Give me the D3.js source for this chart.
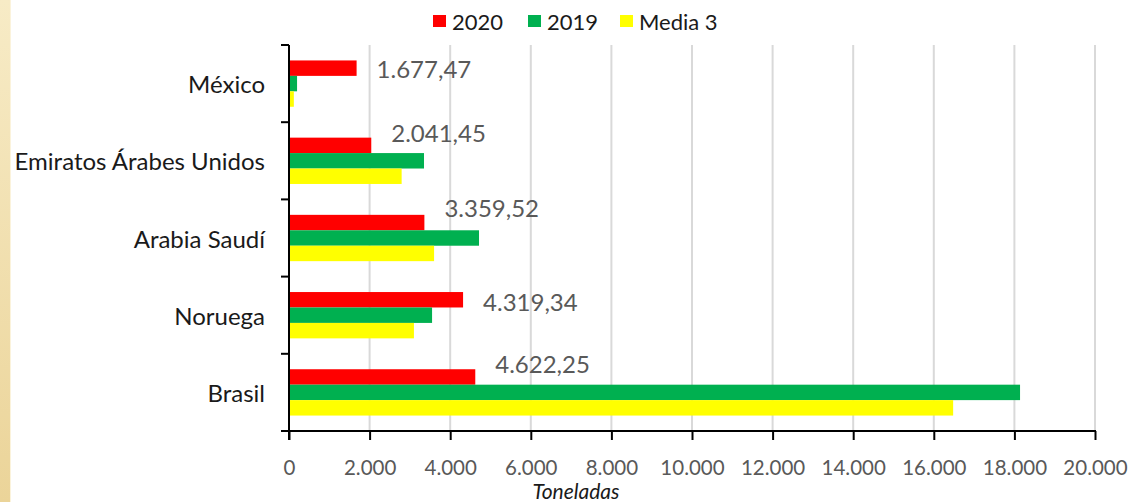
<!DOCTYPE html>
<html>
<head>
<meta charset="utf-8">
<script src="https://cdn.jsdelivr.net/npm/d3@7"></script>
<style>
  body { margin: 0; background: #fff; }
  svg { display: block; }
</style>
</head>
<body>
<div id="chart"></div>
<script>
const countries = ["México", "Emiratos Árabes Unidos", "Arabia Saudí", "Noruega", "Brasil"];
const seriesNames = ["2020", "2019", "Media 3"];
const values2020 = [1677.47, 2041.45, 3359.52, 4319.34, 4622.25];
const values2019 = [200, 3350, 4715, 3550, 18140];
const valuesMedia = [120, 2795, 3600, 3100, 16480];
const xTicks = [0, 2000, 4000, 6000, 8000, 10000, 12000, 14000, 16000, 18000, 20000];
// manual vertical shift of each label (Excel labels were dragged by hand)
const labelNudge = [0, -13, -15, 2, -13];

const width = 1132, height = 502;
const margin = { top: 45, right: 37, bottom: 71, left: 289 };
const colors = ["#ff0000", "#00b050", "#ffff00"];
const font = "Lato, 'Open Sans', sans-serif";

const rows = countries.map((c, i) => ({
  name: c,
  vals: [values2020[i], values2019[i], valuesMedia[i]]
}));

const svg = d3.select("#chart").append("svg")
  .attr("width", width)
  .attr("height", height);

// beige strip on the left edge
const grad = svg.append("defs").append("linearGradient")
  .attr("id", "strip").attr("x1", 0).attr("y1", 0).attr("x2", 0).attr("y2", 1);
grad.append("stop").attr("offset", 0).attr("stop-color", "#f7ebc6");
grad.append("stop").attr("offset", 1).attr("stop-color", "#ebd499");
svg.append("rect").attr("x", 0).attr("y", 0).attr("width", 10).attr("height", height)
  .attr("fill", "url(#strip)");
svg.append("rect").attr("x", 10).attr("y", 0).attr("width", 1).attr("height", height)
  .attr("fill", "#fbf3dc");

const x = d3.scaleLinear()
  .domain([0, 20000])
  .range([margin.left, width - margin.right]);

const y = d3.scaleBand()
  .domain(countries)
  .range([margin.top, height - margin.bottom])
  .paddingInner(0.4)
  .paddingOuter(0.2);

const ySub = d3.scaleBand()
  .domain(seriesNames)
  .range([0, y.bandwidth()]);

const fmt = d3.formatLocale({ decimal: ",", thousands: ".", grouping: [3], currency: ["", ""] });
const fmtTick = fmt.format(",.0f");
const fmtLabel = fmt.format(",.2f");

// grid
svg.append("g")
  .selectAll("line")
  .data(xTicks.slice(1))
  .join("line")
  .attr("x1", d => x(d)).attr("x2", d => x(d))
  .attr("y1", margin.top).attr("y2", height - margin.bottom)
  .attr("stroke", "#d9d9d9")
  .attr("stroke-width", 2);

// bars
const group = svg.append("g")
  .selectAll("g")
  .data(rows)
  .join("g")
  .attr("transform", d => `translate(0,${y(d.name)})`);

group.selectAll("rect")
  .data(d => d.vals.map((v, k) => ({ v, k })))
  .join("rect")
  .attr("x", x(0))
  .attr("y", d => ySub(seriesNames[d.k]))
  .attr("width", d => x(d.v) - x(0))
  .attr("height", ySub.bandwidth())
  .attr("fill", d => colors[d.k]);

// data labels for 2020
svg.append("g")
  .selectAll("text")
  .data(rows)
  .join("text")
  .attr("x", d => x(d.vals[0]) + 20)
  .attr("y", (d, i) => y(d.name) + ySub("2020") + ySub.bandwidth() / 2 + labelNudge[i])
  .attr("dominant-baseline", "central")
  .attr("font-family", font)
  .attr("font-size", 24)
  .attr("fill", "#595959")
  .text(d => fmtLabel(d.vals[0]));

// x axis
const yBottom = height - margin.bottom;
const xAxis = svg.append("g")
  .attr("transform", `translate(0,${yBottom})`)
  .call(d3.axisBottom(x).tickValues(xTicks).tickFormat(fmtTick).tickSize(9).tickSizeOuter(0));
xAxis.select(".domain").remove();
xAxis.append("line")
  .attr("x1", x(0) - 8).attr("x2", x(20000) + 1)
  .attr("stroke", "#000").attr("stroke-width", 2);
xAxis.selectAll(".tick line").attr("stroke", "#000").attr("stroke-width", 2);
xAxis.selectAll(".tick text")
  .attr("dy", "0")
  .attr("y", 44)
  .attr("font-family", font)
  .attr("font-size", 20.5)
  .attr("fill", "#595959");

// y axis
const yAxis = svg.append("g")
  .attr("transform", `translate(${x(0)},0)`);
yAxis.append("line")
  .attr("y1", margin.top).attr("y2", yBottom + 9)
  .attr("stroke", "#000").attr("stroke-width", 2);
const bounds = countries.map(c => y(c) - y.step() * y.paddingInner() / 2);
yAxis.selectAll("line.tk")
  .data(bounds)
  .join("line")
  .attr("class", "tk")
  .attr("x1", -8).attr("x2", 0)
  .attr("y1", d => d).attr("y2", d => d)
  .attr("stroke", "#000").attr("stroke-width", 2);
yAxis.selectAll("text")
  .data(countries)
  .join("text")
  .attr("x", -24)
  .attr("y", d => y(d) + y.bandwidth() / 2)
  .attr("text-anchor", "end")
  .attr("dominant-baseline", "central")
  .attr("font-family", font)
  .attr("font-size", 24)
  .attr("fill", "#1a1a1a")
  .text(d => d);

// axis title
svg.append("text")
  .attr("x", 576)
  .attr("y", 499)
  .attr("text-anchor", "middle")
  .attr("font-family", font)
  .attr("font-style", "italic")
  .attr("font-size", 21)
  .attr("fill", "#1a1a1a")
  .text("Toneladas");

// legend
const legendX = [433, 528, 620];
const legend = svg.append("g")
  .selectAll("g")
  .data(seriesNames)
  .join("g")
  .attr("transform", (d, i) => `translate(${legendX[i]},21)`);
legend.append("rect")
  .attr("x", 0).attr("y", -6)
  .attr("width", 13).attr("height", 12)
  .attr("fill", (d, i) => colors[i]);
legend.append("text")
  .attr("x", 19)
  .attr("y", 0)
  .attr("dominant-baseline", "central")
  .attr("font-family", font)
  .attr("font-size", 22)
  .attr("fill", "#1a1a1a")
  .text(d => d);
</script>
</body>
</html>
